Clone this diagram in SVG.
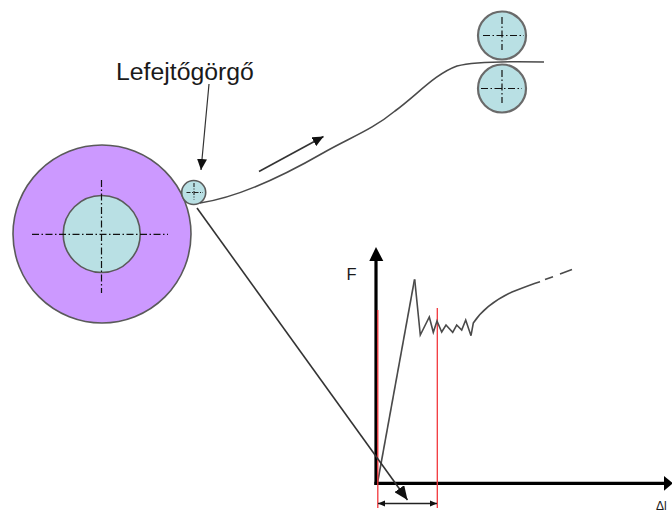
<svg xmlns="http://www.w3.org/2000/svg" width="672" height="513" viewBox="0 0 672 513">
<style>
.roll{fill:#b9e0e4;stroke:#5a5a5a;stroke-width:1.6}
.nip{stroke:#6a6a6a;stroke-width:2.2}
.ctr{fill:none;stroke:#111;stroke-width:1.2;stroke-dasharray:7 2.5 1.5 2.5}
.ctrs{fill:none;stroke:#222;stroke-width:1.1;stroke-dasharray:4 1.5 1 1.5}
.ln{fill:none;stroke:#4a4a4a;stroke-width:1.6}
.ax{fill:none;stroke:#000;stroke-width:3.2}
.red{fill:none;stroke:#f2373c;stroke-width:1.3}
.blk{fill:none;stroke:#222;stroke-width:1.4}
text{font-family:"Liberation Sans",Arial,sans-serif;fill:#1a1a1a}
</style>
<defs>
<marker id="ah" markerUnits="userSpaceOnUse" markerWidth="12" markerHeight="10" refX="11" refY="5" orient="auto"><path d="M0 0L11 5L0 10Z" fill="#111"/></marker>
<marker id="ahl" markerUnits="userSpaceOnUse" markerWidth="15" markerHeight="12" refX="14" refY="6" orient="auto"><path d="M0 0L14 6L0 12Z" fill="#111"/></marker>
<marker id="ahs" markerUnits="userSpaceOnUse" markerWidth="7" markerHeight="7" refX="7" refY="3.500" orient="auto-start-reverse"><path d="M0 0.500L7 3.500L0 6.500Z" fill="#111"/></marker>
</defs>
<g id="supply-roll">
<circle cx="102" cy="234" r="89" fill="#cc99ff" stroke="#5a5a5a" stroke-width="1.6"/>
<circle class="roll" cx="101.700" cy="234" r="38.500"/>
<path class="ctr" d="M32 234.300H168M101.500 180V293"/>
</g>
<g id="unwind-roller">
<circle class="roll" cx="193.700" cy="192.500" r="12"/>
<path class="ctrs" d="M186.500 192.500H203M194 183V199.500"/>
</g>
<g id="nip-roll-top">
<circle class="roll nip" cx="502" cy="35.500" r="24"/>
<path class="ctr" d="M483 35.500H524M502 17V50"/>
</g>
<g id="nip-roll-bottom">
<circle class="roll nip" cx="502" cy="88.500" r="24"/>
<path class="ctr" d="M481 88.500H522M502 70V103"/>
</g>
<g id="label-unwind"><text x="116" y="80" font-size="24.800">Lefejtőgörgő</text></g>
<g id="label-f"><text x="346.500" y="280" font-size="16.500">F</text></g>
<g id="label-dl"><text x="656" y="510" font-size="12">Δl</text></g>
<g id="connectors">
<path class="ln" d="M200 203C240 197 290 172 323 153C350 137.500 372 130 395 111C418 94 435 74 457 66C470 62.500 500 61 544 62"/>
<path d="M259 171.500L323.500 136.500" fill="none" stroke="#333" stroke-width="1.6" marker-end="url(#ah)"/>
<path d="M209 84L201 170" fill="none" stroke="#333" stroke-width="1.2" marker-end="url(#ah)"/>
<path class="ln" d="M414.500 279.500L377.500 483"/>
<path class="ax" d="M376 484.900V258"/>
<path d="M376 247L383.300 261H369.300Z" fill="#000"/>
<path class="ax" d="M374.400 483.300H665"/>
<path d="M673 483.300L664 476V490.700Z" fill="#000"/>
<path class="red" d="M377.800 310V508M437.300 308V508"/>
<path d="M197 208L407.500 500" fill="none" stroke="#333" stroke-width="1.6" marker-end="url(#ahl)"/>
<path class="blk" d="M378 503.500H437" marker-start="url(#ahs)" marker-end="url(#ahs)"/>
<path class="ln" d="M414.700 279.300L420.300 335L429.300 317L433.300 332.300L437 321L441.700 332L446 325L452.700 332.300L456.700 325L461.700 330L465.700 320L471 335.700L473.300 323C482 310 497 299 512 292C522 288 531 284.500 540 281.700"/>
<path class="ln" d="M545 279.500L553 276.700M560 274L572 269.500"/>
</g>
</svg>
